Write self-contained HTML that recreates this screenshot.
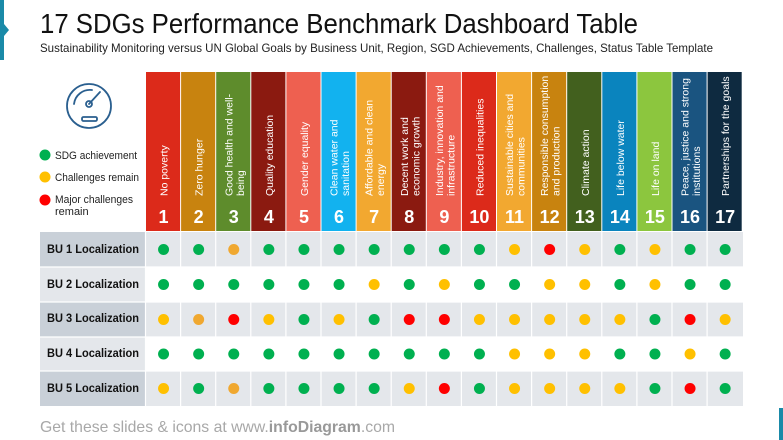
<!DOCTYPE html>
<html><head><meta charset="utf-8"><style>
html,body{margin:0;padding:0;background:#fff;}
svg{display:block;font-family:"Liberation Sans",sans-serif;}
</style></head><body>
<svg width="783" height="440" viewBox="0 0 783 440" xmlns="http://www.w3.org/2000/svg">
<rect x="0" y="0" width="4" height="60" fill="#1a8aa8"/>
<polygon points="4,24 9,30 4,36" fill="#1a8aa8"/>
<rect x="779" y="408" width="4" height="32" fill="#1a8aa8"/>
<text x="40" y="33" font-size="28" fill="#111" textLength="598" lengthAdjust="spacingAndGlyphs">17 SDGs Performance Benchmark Dashboard Table</text>
<text x="40" y="52" font-size="12" fill="#222" textLength="673" lengthAdjust="spacingAndGlyphs">Sustainability Monitoring versus UN Global Goals by Business Unit, Region, SGD Achievements, Challenges, Status Table Template</text>
<g fill="none" stroke="#2a5f8f" stroke-width="1.8" stroke-linecap="round">
<circle cx="89" cy="106" r="22"/>
<path d="M74 104 A16 16 0 0 1 92 90"/>
<line x1="89" y1="104" x2="100" y2="92"/>
<circle cx="89" cy="104" r="3"/>
<rect x="82" y="117" width="15" height="4" rx="1.5"/>
</g>
<circle cx="45" cy="155" r="5.5" fill="#00b050"/>
<text x="55" y="159" font-size="11" fill="#222" textLength="82" lengthAdjust="spacingAndGlyphs">SDG achievement</text>
<circle cx="45" cy="177" r="5.5" fill="#ffc000"/>
<text x="55" y="181" font-size="11" fill="#222" textLength="84" lengthAdjust="spacingAndGlyphs">Challenges remain</text>
<circle cx="45" cy="200" r="5.5" fill="#ff0000"/>
<text x="55" y="203" font-size="11" fill="#222" textLength="78" lengthAdjust="spacingAndGlyphs">Major challenges</text>
<text x="55" y="215" font-size="11" fill="#222">remain</text>
<rect x="40" y="232" width="703" height="35" fill="#e4e7eb"/>
<rect x="40" y="302" width="703" height="35" fill="#e4e7eb"/>
<rect x="40" y="371" width="703" height="35" fill="#e4e7eb"/>
<rect x="40" y="232" width="105" height="35" fill="#c9d0d8"/>
<rect x="40" y="267" width="105" height="35" fill="#e4e7eb"/>
<rect x="40" y="302" width="105" height="35" fill="#c9d0d8"/>
<rect x="40" y="337" width="105" height="34" fill="#e4e7eb"/>
<rect x="40" y="371" width="105" height="35" fill="#c9d0d8"/>
<g font-size="12" font-weight="bold" fill="#111">
<text x="47" y="253" textLength="92" lengthAdjust="spacingAndGlyphs">BU 1 Localization</text>
<text x="47" y="288" textLength="92" lengthAdjust="spacingAndGlyphs">BU 2 Localization</text>
<text x="47" y="322" textLength="92" lengthAdjust="spacingAndGlyphs">BU 3 Localization</text>
<text x="47" y="357" textLength="92" lengthAdjust="spacingAndGlyphs">BU 4 Localization</text>
<text x="47" y="392" textLength="92" lengthAdjust="spacingAndGlyphs">BU 5 Localization</text>
</g>
<g id="cols"></g>
<g id="grid" stroke="#fff" stroke-width="1.2"></g>
<g id="dots"></g>
<text x="40" y="432" font-size="16" fill="#a8a8a8" textLength="355" lengthAdjust="spacingAndGlyphs">Get these slides &amp; icons at www.<tspan font-weight="bold" fill="#999">infoDiagram</tspan>.com</text>
</svg>
<script>
var ns="http://www.w3.org/2000/svg";
var colors=["#dc2a1a","#c8830f","#5e8c2c","#8b1a10","#ee6050","#12b2ef","#f2a830","#8b1a10","#ee6050","#dc2a1a","#f2a830","#c8830f","#42601e","#0a84be","#8cc63e","#1a5480","#0e2a40"];
var labels=[["No poverty"],["Zero hunger"],["Good health and well-","being"],["Quality education"],["Gender equality"],["Clean water and","sanitation"],["Affordable and clean","energy"],["Decent work and","economic growth"],["Industry, innovation and","infrastructure"],["Reduced inequalities"],["Sustainable cities and","communities"],["Responsible consumption","and production"],["Climate action"],["Life below water"],["Life on land"],["Peace, justice and strong","institutions"],["Partnerships for the goals"]];
var rows=["GGOGGGGGGGYRYGYGG","GGGGGGYGYGGYYGYGG","YORYGYGRRYYYYYGRY","GGGGGGGGGGYYYGGYG","YGOGGGGYRGYYYYGRG"];
var dc={G:"#00b050",Y:"#ffc000",O:"#f0a830",R:"#ff0000"};
var cg=document.getElementById("cols"),gg=document.getElementById("grid"),dg=document.getElementById("dots");
var w=35.1,x0=146,rowY=[249.5,284.5,319.5,354,388.5];
function el(t,a,p,txt){var e=document.createElementNS(ns,t);for(var k in a)e.setAttribute(k,a[k]);if(txt)e.textContent=txt;p.appendChild(e);return e;}
for(var i=0;i<17;i++){
 var x=x0+i*w,cx=x+w/2;
 el("rect",{x:x,y:72,width:w-1,height:159,fill:colors[i]},cg);
 var L=labels[i],n=L.length;
 for(var j=0;j<n;j++){
  var lx=cx+(n==1?4:(j==0?-1.5:10));
  el("text",{x:0,y:0,"font-size":"10.5",fill:"#fff","text-anchor":"start",transform:"translate("+lx+",196) rotate(-90)"},cg,L[j]);
 }
 el("text",{x:cx,y:223,"font-size":"18","font-weight":"bold",fill:"#fff","text-anchor":"middle"},cg,String(i+1));
 if(i>0) el("line",{x1:x-0.5,y1:232,x2:x-0.5,y2:406},gg);
 for(var r=0;r<5;r++) el("circle",{cx:cx,cy:rowY[r],r:5.5,fill:dc[rows[r][i]]},dg);
}
el("line",{x1:145.5,y1:232,x2:145.5,y2:406},gg);
[267,302,337,371].forEach(function(y){el("line",{x1:40,y1:y,x2:743,y2:y},gg);});
</script>
</body></html>
